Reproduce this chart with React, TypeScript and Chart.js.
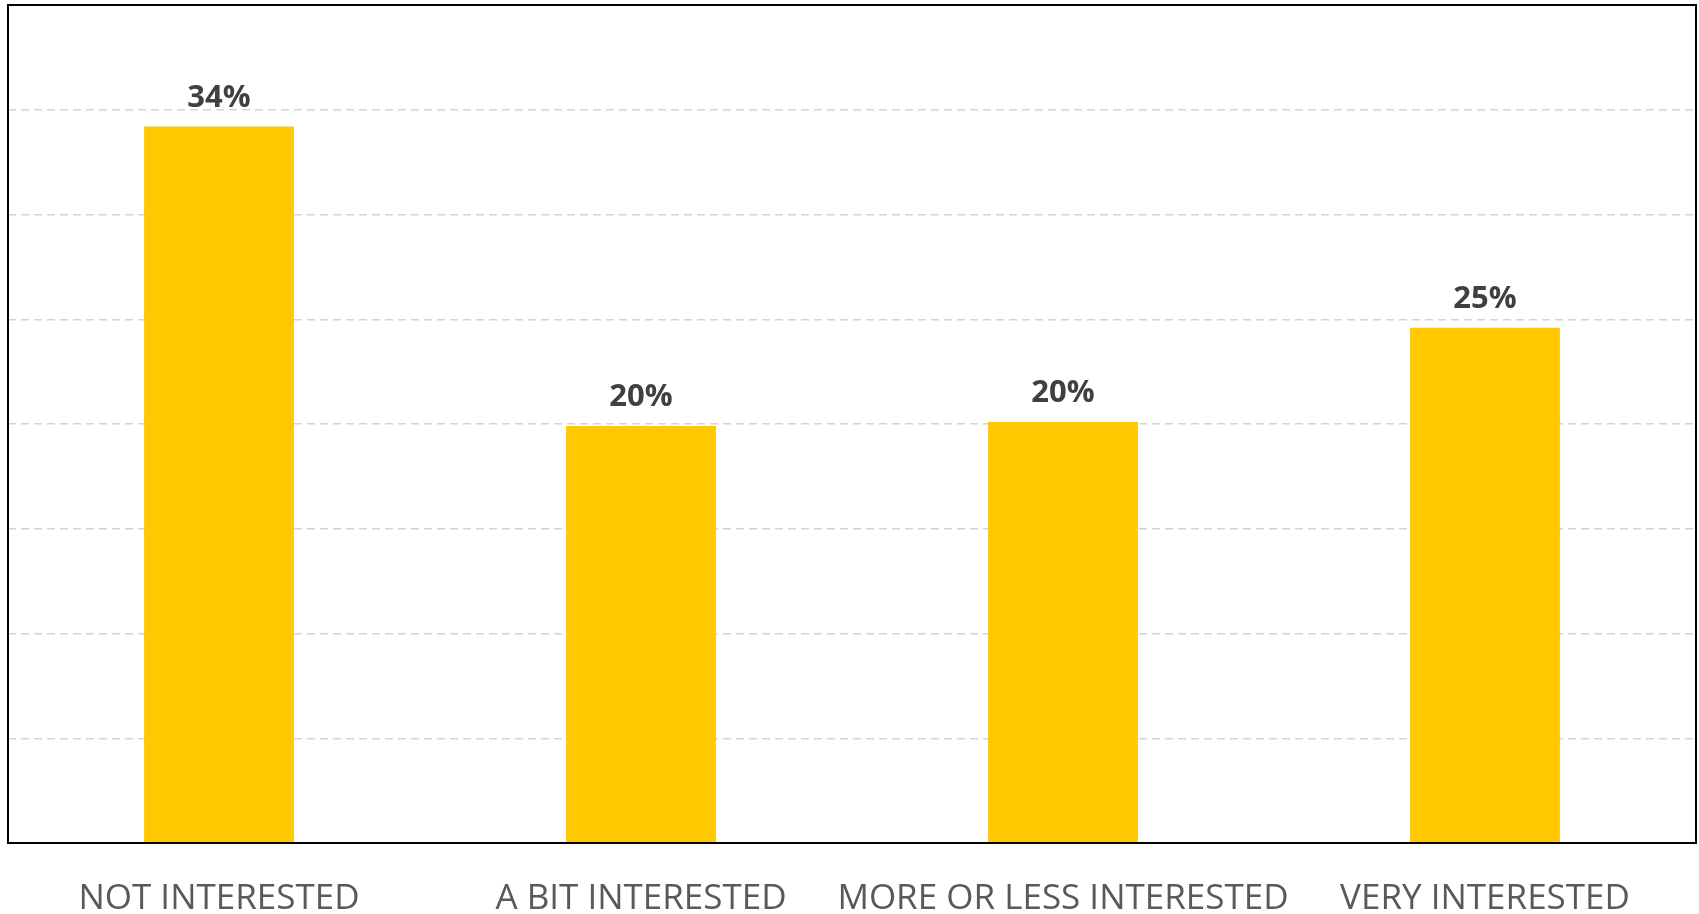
import React, { useEffect, useRef } from "react";
import { Chart, registerables } from "chart.js";

Chart.register(...registerables);

const categories = ["NOT INTERESTED", "A BIT INTERESTED", "MORE OR LESS INTERESTED", "VERY INTERESTED"];
const values = [34.2, 19.9, 20.1, 24.6];
const valueLabels = ["34%", "20%", "20%", "25%"];

const FONT = "'Open Sans', 'Noto Sans', sans-serif";

const valueLabelPlugin = {
  id: "valueLabels",
  afterDatasetsDraw(chart: any) {
    const ctx = chart.ctx;
    const meta = chart.getDatasetMeta(0);
    ctx.save();
    ctx.fillStyle = "#404040";
    ctx.font = `bold 31px ${FONT}`;
    ctx.textAlign = "center";
    ctx.textBaseline = "alphabetic";
    meta.data.forEach((el: any, i: number) => {
      ctx.fillText(valueLabels[i], el.x, el.y - 20);
    });
    ctx.restore();
  },
};

const framePlugin = {
  id: "frame",
  afterDraw(chart: any) {
    const { ctx, chartArea } = chart;
    ctx.save();
    ctx.strokeStyle = "#000000";
    ctx.lineWidth = 2;
    ctx.strokeRect(chartArea.left, chartArea.top, chartArea.right - chartArea.left, chartArea.bottom - chartArea.top);
    ctx.restore();
  },
};

export default function App() {
  const ref = useRef<HTMLCanvasElement | null>(null);
  useEffect(() => {
    if (!ref.current) return;
    const chart = new Chart(ref.current, {
      type: "bar",
      data: {
        labels: categories,
        datasets: [
          {
            data: values,
            backgroundColor: "#FFC800",
            borderWidth: 0,
            categoryPercentage: 1,
            barPercentage: 0.355,
          },
        ],
      },
      options: {
        animation: false,
        responsive: true,
        maintainAspectRatio: false,
        layout: { padding: { left: 8, top: 5, right: 3, bottom: 0 } },
        plugins: { legend: { display: false }, tooltip: { enabled: false } },
        scales: {
          x: {
            grid: { display: false, drawTicks: false },
            border: { display: false },
            ticks: {
              color: "#595959",
              font: { family: FONT, size: 35 },
              padding: 35,
              maxRotation: 0,
              autoSkip: false,
            },
            afterFit(scale: any) {
              scale.height = 71;
            },
          },
          y: {
            min: 0,
            max: 40,
            ticks: { display: false, stepSize: 5 },
            grid: { color: "#d4d4d4", lineWidth: 1.5, drawTicks: false },
            border: { display: false, dash: [8, 5] },
            afterFit(scale: any) {
              scale.width = 0;
            },
          },
        },
      },
      plugins: [valueLabelPlugin, framePlugin],
    });
    return () => chart.destroy();
  }, []);
  return (
    <div style={{ position: "fixed", left: 0, top: 0, width: 1699, height: 914, background: "#fff" }}>
      <canvas ref={ref} />
    </div>
  );
}
